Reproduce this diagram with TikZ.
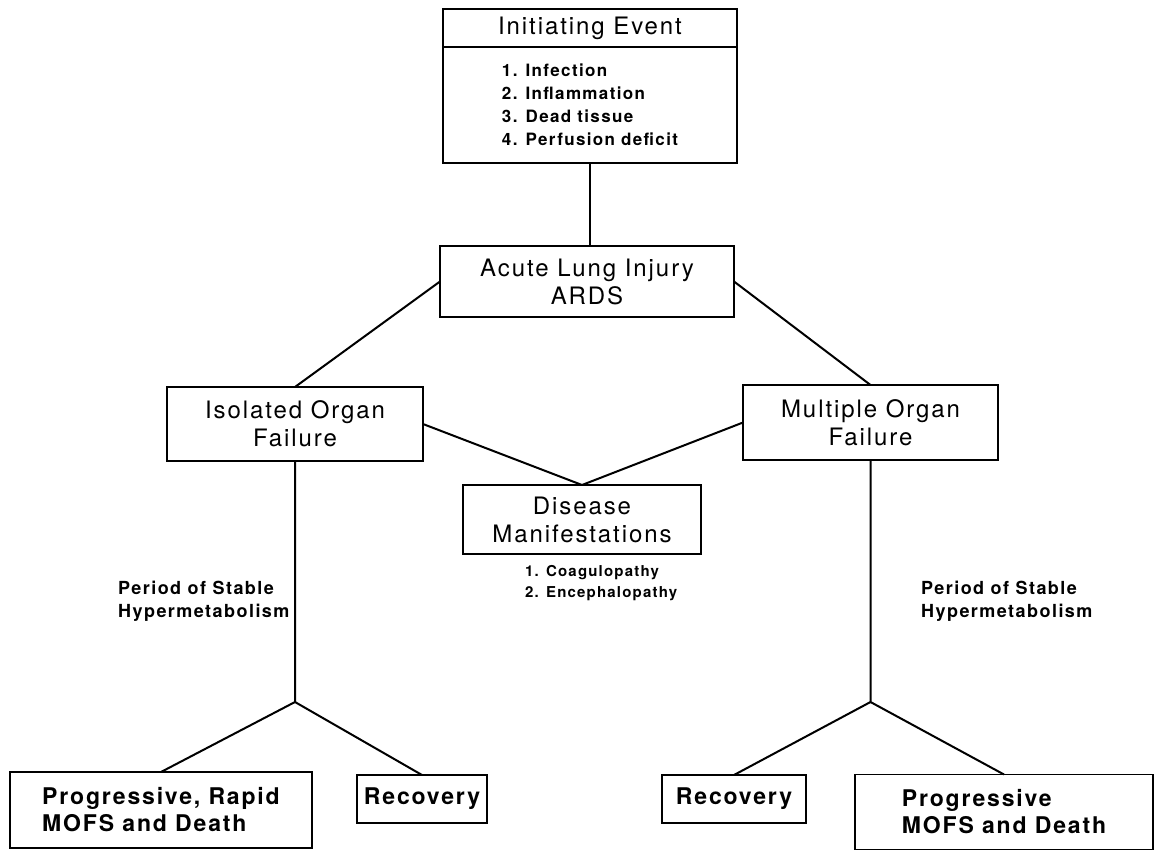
\documentclass[tikz,border=0pt]{standalone}
\usepackage{fontspec}
\setmainfont{TeX Gyre Heros}[LetterSpace=8]
\usetikzlibrary{positioning}

\begin{document}
\begin{tikzpicture}[x=1pt, y=-1pt,
    box/.style={draw, line width=1.6pt, outer sep=0pt, inner sep=2pt, align=center,
                font=\fontsize{24}{28}\selectfont},
    boldbox/.style={box, font=\bfseries\fontsize{23}{27}\selectfont},
    note/.style={align=left, inner sep=0pt, font=\bfseries\fontsize{18}{23}\selectfont},
    link/.style={line width=2pt, line join=round}]
      \useasboundingbox (0,0) rectangle (1159,850);

      % Initiating event
      \node[box, minimum width=294pt, minimum height=38pt] (ie) at (590,28) {Initiating Event};
      \node[box, minimum width=294pt, minimum height=116pt, align=left,
            font=\bfseries\fontsize{17}{23}\selectfont, below=0pt of ie] (ielist)
            {1. Infection\\2. Inflammation\\3. Dead tissue\\4. Perfusion deficit};

      % Middle boxes
      \node[box, minimum width=294pt, minimum height=71pt] (ali) at (587,281.5) {Acute Lung Injury\\ARDS};
      \node[box, minimum width=256pt, minimum height=74pt] (iso) at (295,424) {Isolated Organ\\Failure};
      \node[box, minimum width=255pt, minimum height=75pt] (mof) at (870.5,422.5) {Multiple Organ\\Failure};
      \node[box, minimum width=238pt, minimum height=69pt] (dm) at (582,519.5) {Disease\\Manifestations};
      \node[note, font=\bfseries\fontsize{15}{21}\selectfont, anchor=north west] (dmlist) at (525,565)
            {1. Coagulopathy\\2. Encephalopathy};

      % Side labels
      \node[note, anchor=west] (stabl) at (118,601) {Period of Stable\\Hypermetabolism};
      \node[note, anchor=west] (stabr) at (921,601) {Period of Stable\\Hypermetabolism};

      % Outcomes
      \coordinate (jl) at (295,702);
      \coordinate (jr) at (870.5,702);
      \node[boldbox, minimum width=302pt, minimum height=76pt, align=left] (pl) at (161,810) {Progressive, Rapid\\MOFS and Death};
      \node[boldbox, minimum width=130pt, minimum height=48pt] (rl) at (422,799) {Recovery};
      \node[boldbox, minimum width=144pt, minimum height=48pt] (rr) at (734,799) {Recovery};
      \node[boldbox, minimum width=298pt, minimum height=75pt, align=left] (pr) at (1004,812) {Progressive\\MOFS and Death};

      % Connectors
      \draw[link] (ielist.south) -- (ielist.south |- ali.north);
      \draw[link] (ali.west) -- (iso.north);
      \draw[link] (ali.east) -- (mof.north);
      \draw[link] (iso.east) -- (dm.north) -- (mof.west);
      \draw[link] (iso.south) -- (jl) -- (pl.north);
      \draw[link] (jl) -- (rl.north);
      \draw[link] (mof.south) -- (jr) -- (pr.north);
      \draw[link] (jr) -- (rr.north);
    \end{tikzpicture}
\end{document}
